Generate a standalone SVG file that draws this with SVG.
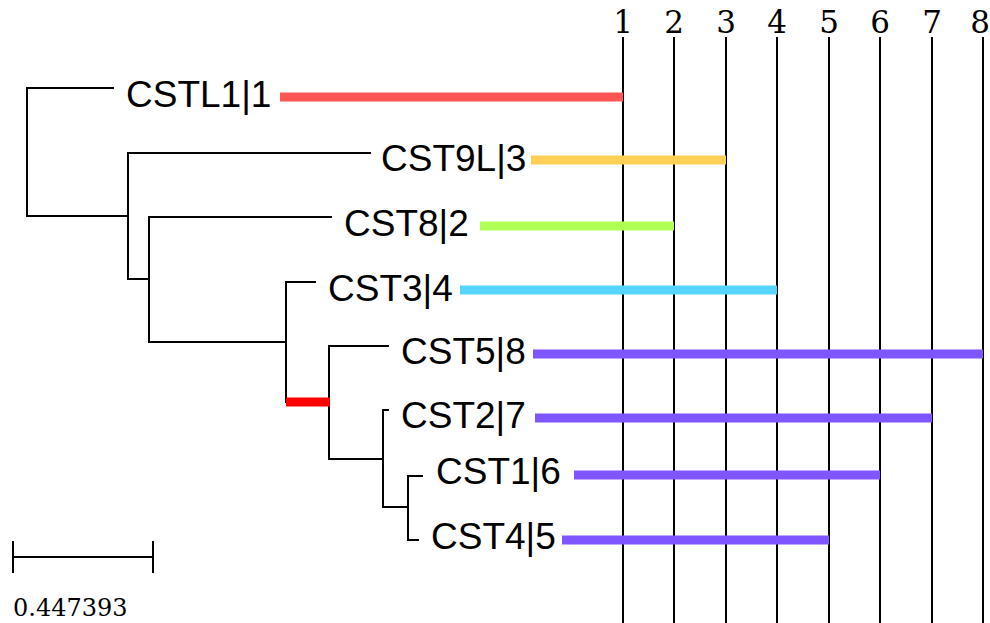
<svg xmlns="http://www.w3.org/2000/svg" width="990" height="623" viewBox="0 0 990 623">
<style>
.br{stroke:#000;stroke-width:2;fill:none;stroke-linecap:square}
.lbl{font-family:"Liberation Sans",Arial,sans-serif;font-size:37px;fill:#000}
.num{font-family:"DejaVu Serif","Liberation Serif",serif;font-size:31px;fill:#000;text-anchor:middle}
.sc{font-family:"DejaVu Serif","Liberation Serif",serif;font-size:24px;fill:#000}
.bar{stroke-width:9;fill:none}
.grid{stroke:#000;stroke-width:2}
</style>
<rect width="990" height="623" fill="#fff"/>
<g id="grid">
<line class="grid" x1="623" y1="37" x2="623" y2="623"/>
<line class="grid" x1="674" y1="37" x2="674" y2="623"/>
<line class="grid" x1="726" y1="37" x2="726" y2="623"/>
<line class="grid" x1="777" y1="37" x2="777" y2="623"/>
<line class="grid" x1="829" y1="37" x2="829" y2="623"/>
<line class="grid" x1="880" y1="37" x2="880" y2="623"/>
<line class="grid" x1="932" y1="37" x2="932" y2="623"/>
<line class="grid" x1="983" y1="37" x2="983" y2="623"/>
<text class="num" x="623" y="33">1</text>
<text class="num" x="674" y="33">2</text>
<text class="num" x="726" y="33">3</text>
<text class="num" x="777" y="33">4</text>
<text class="num" x="829" y="33">5</text>
<text class="num" x="880" y="33">6</text>
<text class="num" x="932" y="33">7</text>
<text class="num" x="980" y="33">8</text>
</g>
<g id="connectors">
<path class="br" d="M113,88 H27 V216 H128"/>
<path class="br" d="M370,153 H128 V279 H149"/>
<path class="br" d="M331,217 H149 V342 H286"/>
<path class="br" d="M315,282 H286 V402"/>
<path class="br" d="M388,346 H329 V459 H383"/>
<path class="br" d="M388,410 H383 V507 H408"/>
<path class="br" d="M422,476 H408 V540 H418"/>
<line x1="286" y1="402" x2="330" y2="402" stroke="#ff0000" stroke-width="9"/>
</g>
<g id="CSTL1"><text class="lbl" x="126" y="107">CSTL1|1</text><line class="bar" x1="280" y1="97" x2="623" y2="97" stroke="#ff5555"/></g>
<g id="CST9L"><text class="lbl" x="381" y="171">CST9L|3</text><line class="bar" x1="531" y1="160" x2="726" y2="160" stroke="#ffd055"/></g>
<g id="CST8"><text class="lbl" x="344" y="236">CST8|2</text><line class="bar" x1="480" y1="226" x2="674" y2="226" stroke="#afff55"/></g>
<g id="CST3"><text class="lbl" x="328" y="301">CST3|4</text><line class="bar" x1="460" y1="290" x2="777" y2="290" stroke="#55d5ff"/></g>
<g id="CST5"><text class="lbl" x="401" y="364">CST5|8</text><line class="bar" x1="533" y1="354" x2="983" y2="354" stroke="#7f55ff"/></g>
<g id="CST2"><text class="lbl" x="401" y="428">CST2|7</text><line class="bar" x1="535" y1="418" x2="932" y2="418" stroke="#7f55ff"/></g>
<g id="CST1"><text class="lbl" x="436" y="484">CST1|6</text><line class="bar" x1="574" y1="475" x2="880" y2="475" stroke="#7f55ff"/></g>
<g id="CST4"><text class="lbl" x="431" y="549">CST4|5</text><line class="bar" x1="562" y1="540" x2="829" y2="540" stroke="#7f55ff"/></g>
<g id="scale">
<path class="br" d="M13,557 H153 M13,542 V572 M153,542 V572" stroke-linecap="butt"/>
<text class="sc" x="13" y="616">0.447393</text>
</g>
</svg>
